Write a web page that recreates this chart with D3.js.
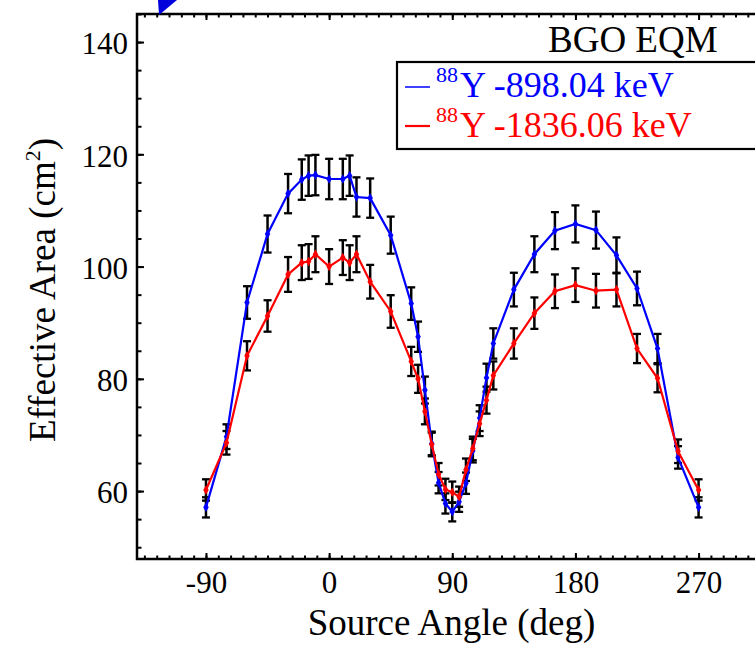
<!DOCTYPE html>
<html><head><meta charset="utf-8">
<script src="https://cdn.jsdelivr.net/npm/d3@7"></script>
<style>body{margin:0;background:#fff}svg{display:block}</style>
</head><body>
<script>
// ---- data ----
const angles = [-90,-75,-60,-45,-30,-20,-15,-10,0,10,15,20,30,45,60,65,70,75,80,85,90,95,100,105,110,115,120,135,150,165,180,195,210,225,240,255,270];
const blueValues = [57.1,69.7,93.6,105.8,113.0,115.5,116.2,116.3,115.6,115.6,116.2,112.4,112.2,105.6,93.4,87.5,78.0,68.5,61.5,57.8,56.3,58.1,61.4,67.2,73.0,80.2,86.3,95.9,102.2,106.4,107.6,106.5,102.0,96.1,85.4,66.0,57.1];
const blueErrors = [1.8,2.2,2.9,3.3,3.5,3.6,3.6,3.6,3.6,3.6,3.6,3.5,3.5,3.3,2.9,2.7,2.4,2.1,1.9,1.8,1.7,1.8,1.9,2.1,2.3,2.5,2.7,3.0,3.2,3.3,3.3,3.3,3.2,3.0,2.6,2.0,1.8];
const redValues = [60.2,68.6,84.1,91.2,98.6,100.7,100.9,102.2,100.0,101.6,100.7,102.2,97.3,92.0,83.1,80.0,74.2,68.3,63.0,60.3,59.8,59.0,63.8,67.6,72.0,76.2,80.6,86.3,91.7,95.6,96.7,95.7,95.9,85.4,80.1,67.1,60.2];
const redErrors = [1.9,2.1,2.6,2.8,3.1,3.1,3.1,3.2,3.1,3.1,3.1,3.2,3.0,2.9,2.6,2.5,2.3,2.1,2.0,1.9,1.9,1.8,2.0,2.1,2.2,2.4,2.5,2.7,2.8,3.0,3.0,3.0,3.0,2.6,2.5,2.1,1.9];
const xTicks = [-90,0,90,180,270];
const yTicks = [60,80,100,120,140];
const seriesLabels = ["Y -898.04 keV","Y -1836.06 keV"];
const seriesSup = "88";
const seriesColors = ["#0000ff","#ff0000"];
const titleText = "BGO EQM";
const xTitle = "Source Angle (deg)";
const yTitle = "Effective Area (cm";

// ---- layout ----
const W = 755, H = 645;
const font = "'Liberation Serif','Times New Roman',serif";
const svg = d3.select("body").append("svg").attr("width", W).attr("height", H)
  .style("font-family", font);

const L = 137, T = 14, B = 559, R = 767;
const x = d3.scaleLinear().domain([-140.4, 320]).range([L, R]);
const y = d3.scaleLinear().domain([47.9, 145]).range([B, T]);

const xMinor = d3.range(-135, 320, 9);
const yMinor = d3.range(50, 146, 5);

function styleAxis(g){
  g.select(".domain").remove();
  g.selectAll(".tick line").attr("stroke","#000").attr("stroke-width",2);
}
// minor ticks
svg.append("g").attr("transform",`translate(0,${B})`)
  .call(d3.axisBottom(x).tickValues(xMinor).tickSize(-3.5).tickFormat(""))
  .call(styleAxis);
svg.append("g").attr("transform",`translate(0,${T})`)
  .call(d3.axisTop(x).tickValues(xMinor).tickSize(-3.5).tickFormat(""))
  .call(styleAxis);
svg.append("g").attr("transform",`translate(${L},0)`)
  .call(d3.axisLeft(y).tickValues(yMinor).tickSize(-4.5).tickFormat(""))
  .call(styleAxis);
svg.append("g").attr("transform",`translate(${R},0)`)
  .call(d3.axisRight(y).tickValues(yMinor).tickSize(-4.5).tickFormat(""))
  .call(styleAxis);
// major ticks + labels
const xb = svg.append("g").attr("transform",`translate(0,${B})`)
  .call(d3.axisBottom(x).tickValues(xTicks).tickSize(-6).tickPadding(12).tickFormat(d=>d))
  .call(styleAxis);
xb.selectAll("text").attr("font-size",31).attr("font-family",font).attr("fill","#000");
svg.append("g").attr("transform",`translate(0,${T})`)
  .call(d3.axisTop(x).tickValues(xTicks).tickSize(-6).tickFormat(""))
  .call(styleAxis);
const yl = svg.append("g").attr("transform",`translate(${L},0)`)
  .call(d3.axisLeft(y).tickValues(yTicks).tickSize(-7).tickPadding(9).tickFormat(d=>d))
  .call(styleAxis);
yl.selectAll("text").attr("font-size",31).attr("font-family",font).attr("fill","#000").attr("dy","0.38em");
svg.append("g").attr("transform",`translate(${R},0)`)
  .call(d3.axisRight(y).tickValues(yTicks).tickSize(-7).tickFormat(""))
  .call(styleAxis);

// frame
svg.append("rect").attr("x",L).attr("y",T).attr("width",R-L).attr("height",B-T)
  .attr("fill","none").attr("stroke","#000").attr("stroke-width",2.5);

// ---- data marks ----
const series = [
  {values: blueValues, errors: blueErrors, color: seriesColors[0]},
  {values: redValues, errors: redErrors, color: seriesColors[1]}
];
const cap = 4;
series.forEach(s => {
  const g = svg.append("g");
  angles.forEach((a,i) => {
    const v = s.values[i], e = s.errors[i];
    const cx = x(a), y0 = y(v - e), y1 = y(v + e);
    g.append("line").attr("x1",cx).attr("x2",cx).attr("y1",y0).attr("y2",y1)
      .attr("stroke","#000").attr("stroke-width",2.5);
    g.append("line").attr("x1",cx-cap).attr("x2",cx+cap).attr("y1",y0).attr("y2",y0)
      .attr("stroke","#000").attr("stroke-width",2.3);
    g.append("line").attr("x1",cx-cap).attr("x2",cx+cap).attr("y1",y1).attr("y2",y1)
      .attr("stroke","#000").attr("stroke-width",2.3);
  });
});
const line = d3.line().x((d,i)=>x(angles[i])).y(d=>y(d));
series.forEach(s => {
  svg.append("path").datum(s.values).attr("d",line)
    .attr("fill","none").attr("stroke",s.color).attr("stroke-width",2.2);
  svg.append("g").selectAll("path").data(s.values).join("path")
    .attr("transform",(d,i)=>`translate(${x(angles[i])},${y(d)})`)
    .attr("d", d3.symbol(d3.symbolDiamond, 26))
    .attr("fill", s.color);
});

// ---- title & legend ----
svg.append("text").attr("x",548).attr("y",52).attr("font-size",37).attr("fill","#000").text(titleText);

svg.append("rect").attr("x",397).attr("y",62).attr("width",380).attr("height",87)
  .attr("fill","none").attr("stroke","#000").attr("stroke-width",2.2);
[0,1].forEach(k => {
  const ly = k===0 ? 87 : 126;
  const by = k===0 ? 97 : 137;
  svg.append("line").attr("x1",405).attr("x2",430).attr("y1",ly).attr("y2",ly)
    .attr("stroke",seriesColors[k]).attr("stroke-width",k===0?1.5:2.2);
  svg.append("text").attr("x",436).attr("y",by-15).attr("font-size",22).attr("fill",seriesColors[k]).text(seriesSup);
  svg.append("text").attr("x",460).attr("y",by).attr("font-size",36).attr("fill",seriesColors[k]).text(seriesLabels[k]);
});

// axis titles
svg.append("text").attr("x",451.5).attr("y",635).attr("text-anchor","middle")
  .attr("font-size",37).attr("fill","#000").text(xTitle);
const yt = svg.append("text").attr("transform","translate(55,290) rotate(-90)")
  .attr("text-anchor","middle").attr("font-size",37).attr("fill","#000");
yt.append("tspan").text(yTitle);
yt.append("tspan").attr("font-size",22).attr("dy",-15).text("2");
yt.append("tspan").attr("dy",15).text(")");

// arrow head at top-left
svg.append("polygon").attr("points","158,0 177,0 159,15").attr("fill","#0000dd");
</script>
</body></html>
